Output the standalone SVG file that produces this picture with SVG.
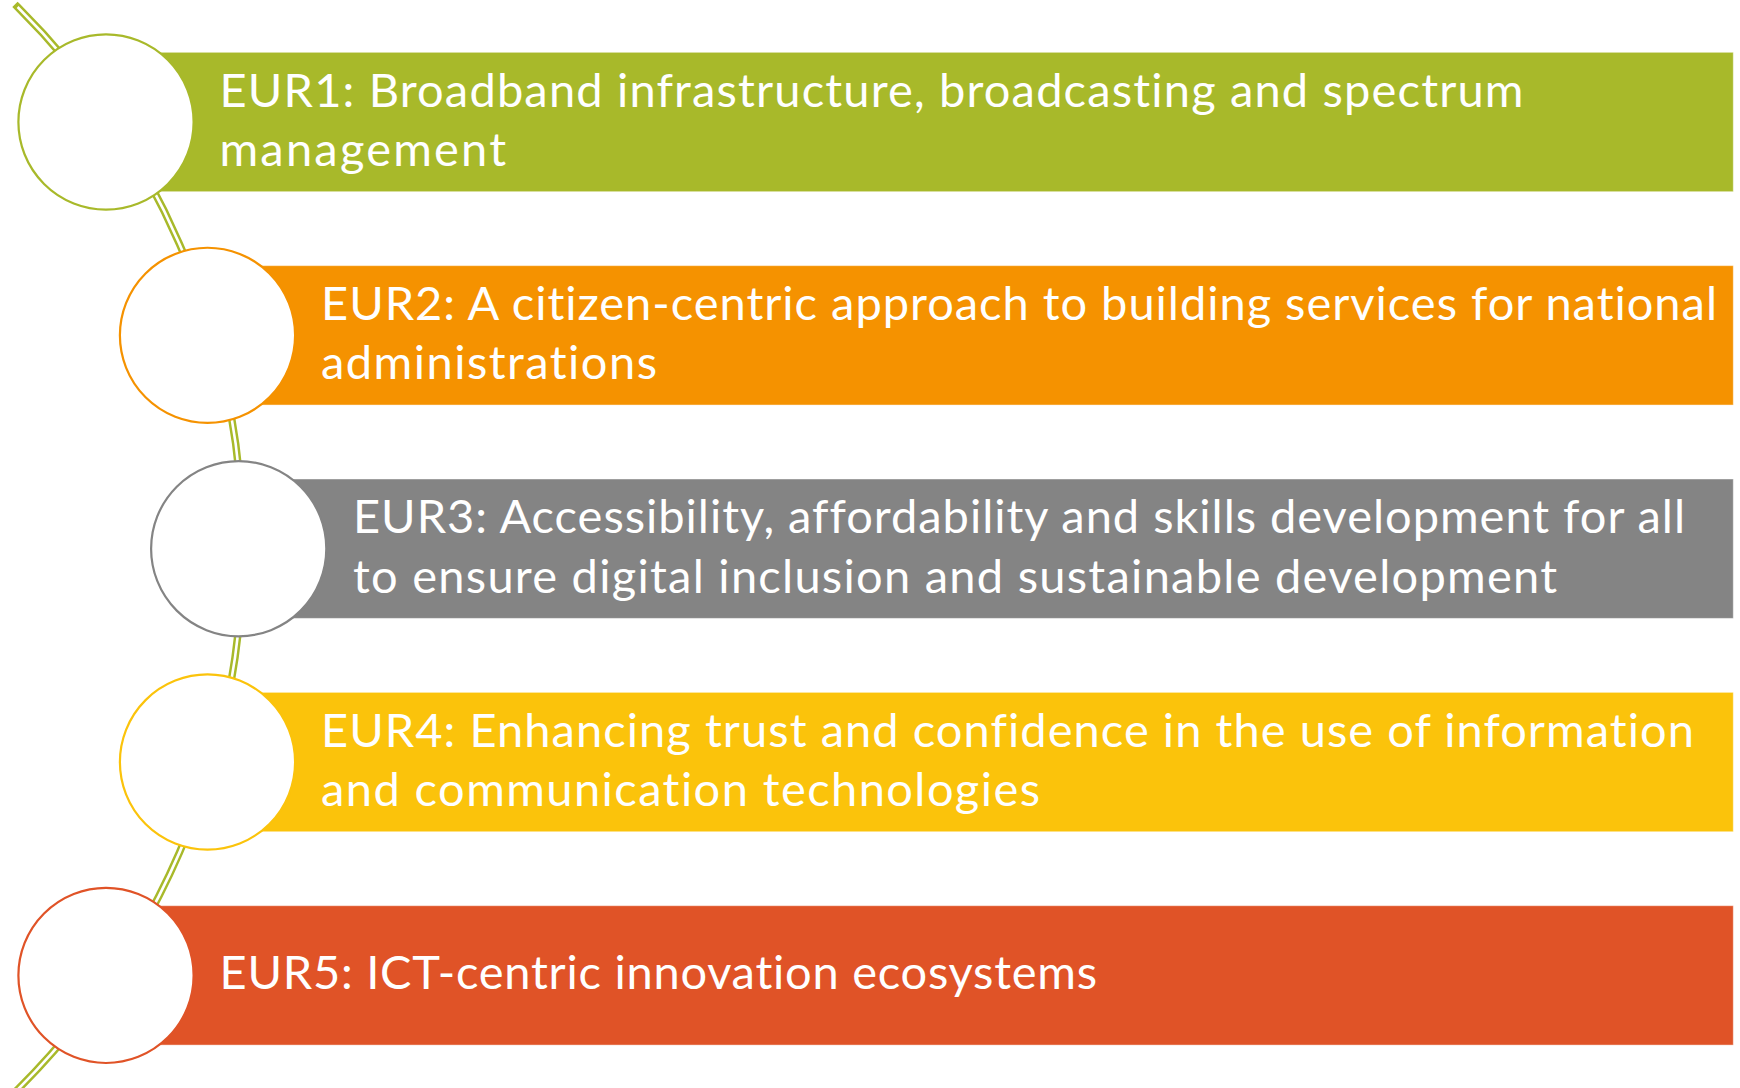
<svg xmlns="http://www.w3.org/2000/svg" width="1740" height="1088" viewBox="0 0 1740 1088">
  <style>
    .bar { stroke: #ffffff; stroke-opacity: 0.45; stroke-width: 1; }
    .dot { fill: #ffffff; stroke-width: 2.2; }
    .lbl { font-family: Lato, "Open Sans", "Liberation Sans", sans-serif; font-size: 47px; fill: #ffffff; font-variant-ligatures: none; }
    .arc-out { fill: none; stroke: #A8B92A; stroke-width: 7.5; stroke-linecap: square; }
    .arc-in { fill: none; stroke: #ffffff; stroke-width: 2.6; }
  </style>
  <rect width="1740" height="1088" fill="#ffffff"/>
  <g id="connectors">
    <path class="arc-out" d="M 17.6,7 A 763.3 763.3 0 0 1 17.6,1089.6"/>
    <path class="arc-in" d="M 17.6,7 A 763.3 763.3 0 0 1 17.6,1089.6"/>
  </g>
  <g id="node-eur1">
    <rect class="bar" x="106" y="52.3" width="1627.3" height="139.4" fill="#A8B92A"/>
    <circle class="dot" cx="106" cy="122" r="87.6" stroke="#A8B92A"/>
    <text class="lbl" x="219.5" y="106.5" textLength="1304">EUR1: Broadband infrastructure, broadcasting and spectrum</text>
    <text class="lbl" x="219.5" y="165.8" textLength="286.5">management</text>
  </g>
  <g id="node-eur2">
    <rect class="bar" x="207.5" y="265.65" width="1525.8" height="139.4" fill="#F59200"/>
    <circle class="dot" cx="207.5" cy="335.35" r="87.6" stroke="#F59200"/>
    <text class="lbl" x="321" y="319.85" textLength="1396">EUR2: A citizen-centric approach to building services for national</text>
    <text class="lbl" x="321" y="379.15" textLength="336">administrations</text>
  </g>
  <g id="node-eur3">
    <rect class="bar" x="238.7" y="479" width="1494.6" height="139.4" fill="#848484"/>
    <circle class="dot" cx="238.7" cy="548.7" r="87.6" stroke="#848484"/>
    <text class="lbl" x="353" y="533.2" textLength="1332">EUR3: Accessibility, affordability and skills development for all</text>
    <text class="lbl" x="353" y="592.5" textLength="1204">to ensure digital inclusion and sustainable development</text>
  </g>
  <g id="node-eur4">
    <rect class="bar" x="207.5" y="692.35" width="1525.8" height="139.4" fill="#FBC30B"/>
    <circle class="dot" cx="207.5" cy="762.05" r="87.6" stroke="#FBC30B"/>
    <text class="lbl" x="321" y="746.55" textLength="1373">EUR4: Enhancing trust and confidence in the use of information</text>
    <text class="lbl" x="321" y="805.85" textLength="719">and communication technologies</text>
  </g>
  <g id="node-eur5">
    <rect class="bar" x="106" y="905.7" width="1627.3" height="139.4" fill="#E05327"/>
    <circle class="dot" cx="106" cy="975.4" r="87.6" stroke="#E05327"/>
    <text class="lbl" x="219.5" y="989" textLength="877.5">EUR5: ICT-centric innovation ecosystems</text>
  </g>
</svg>
